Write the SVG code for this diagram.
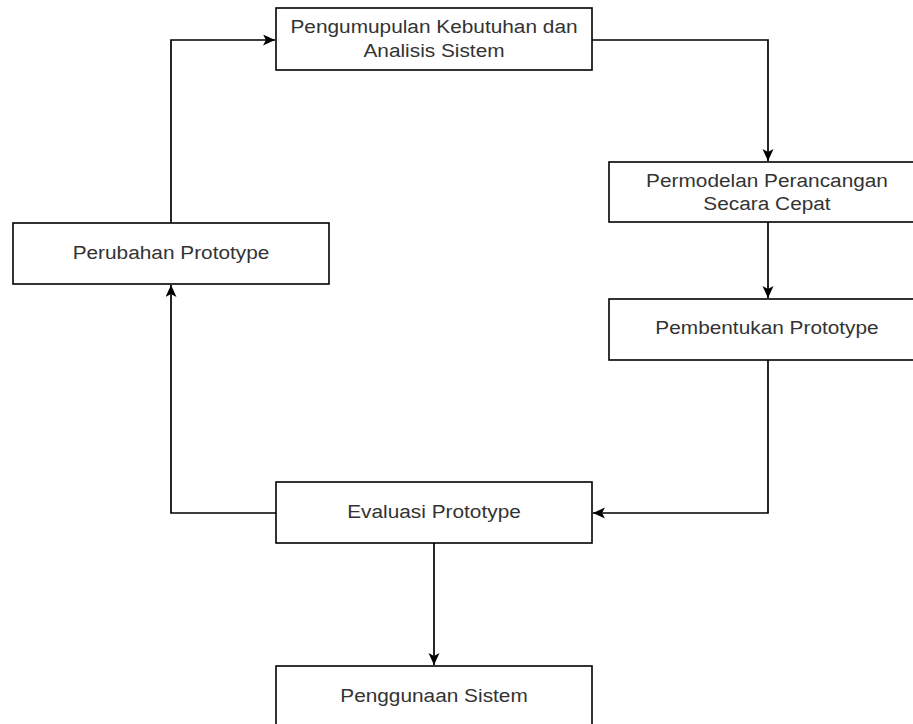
<svg xmlns="http://www.w3.org/2000/svg" width="913" height="724" viewBox="0 0 913 724">
<style>
.box{fill:#fff;stroke:#000;stroke-width:1.6}
.edge{fill:none;stroke:#000;stroke-width:1.7}
.lbl{font-family:"Liberation Sans",Arial,sans-serif;font-size:18.6px;fill:#333;text-anchor:middle}
</style>
<defs>
<marker id="arr" markerUnits="userSpaceOnUse" markerWidth="14" markerHeight="12" refX="12" refY="5.5" orient="auto" viewBox="0 0 14 12">
<path d="M0,0 L12,5.5 L0,11 L3,5.5 Z" fill="#000"/>
</marker>
</defs>
<rect width="913" height="724" fill="#fff"/>
<g id="connectors">
<path class="edge" d="M171,223 V40 H275" marker-end="url(#arr)"/>
<path class="edge" d="M592,40 H768 V161" marker-end="url(#arr)"/>
<path class="edge" d="M768,222 V298" marker-end="url(#arr)"/>
<path class="edge" d="M768,360 V513 H593" marker-end="url(#arr)"/>
<path class="edge" d="M276,513 H171 V285" marker-end="url(#arr)"/>
<path class="edge" d="M434,543 V665" marker-end="url(#arr)"/>
</g>
<g id="n1">
<rect class="box" x="276" y="8" width="316" height="62"/>
<g transform="translate(434,0) scale(1.12,1)"><text class="lbl" x="0" y="33.3">Pengumupulan Kebutuhan dan</text><text class="lbl" x="0" y="56.7">Analisis Sistem</text></g>
</g>
<g id="n2">
<rect class="box" x="609" y="162" width="317" height="60"/>
<g transform="translate(767,0) scale(1.12,1)"><text class="lbl" x="0" y="186.7">Permodelan Perancangan</text><text class="lbl" x="0" y="210">Secara Cepat</text></g>
</g>
<g id="n3">
<rect class="box" x="609" y="299" width="317" height="61"/>
<g transform="translate(767,0) scale(1.12,1)"><text class="lbl" x="0" y="334.3">Pembentukan Prototype</text></g>
</g>
<g id="n4">
<rect class="box" x="276" y="482" width="316" height="61"/>
<g transform="translate(434,0) scale(1.12,1)"><text class="lbl" x="0" y="517.7">Evaluasi Prototype</text></g>
</g>
<g id="n5">
<rect class="box" x="13" y="223" width="316" height="61"/>
<g transform="translate(171,0) scale(1.12,1)"><text class="lbl" x="0" y="259.3">Perubahan Prototype</text></g>
</g>
<g id="n6">
<rect class="box" x="276" y="666" width="316" height="61"/>
<g transform="translate(434,0) scale(1.12,1)"><text class="lbl" x="0" y="701.7">Penggunaan Sistem</text></g>
</g>
</svg>
